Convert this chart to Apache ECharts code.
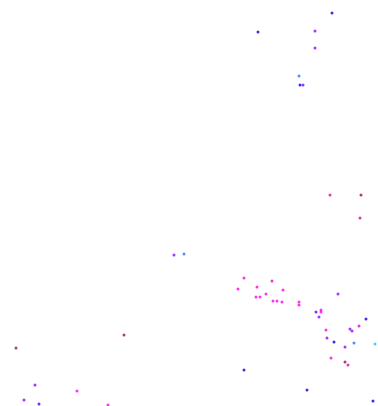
<!DOCTYPE html>
<html>
<head>
<meta charset="utf-8">
<script src="https://cdn.jsdelivr.net/npm/echarts@6/dist/echarts.min.js"></script>
<style>
html,body{margin:0;padding:0;background:#fff;}
#chart{width:378px;height:406px;}
</style>
</head>
<body>
<div id="chart"></div>
<script>
// Horizontal position of each point
var xValues = [332,258,315,315,299,300,303,330,361,360,174,184,
  244,238,257,272,283,266,256,260,273,277,282,299,299,338,321,321,316,319,366,326,350,352,359,327,334,354,375,345,331,345,348,244,307,373,
  124,16,35,77,24,39,108];
// Vertical position of each point (measured upward from the bottom)
var yValues = [393,374,375,358,330,321,321,211,211,188,151,152,
  128,117,119,125,116,112,109,109,105,105,104,104,101,112,96,94,94,89,87,76,77,75,80,68,64,63,62,59,48,44,41,36,16,5,
  71,58,21,15,6,2,1];
// Third measure of each point, shown by colour
var colorValues = [75,75,52,52,87,75,55,14,2,12,52,87,
  33,33,30,16,30,30,33,33,33,33,33,35,35,50,36,36,62,52,75,35,52,52,20,52,75,87,100,52,28,2,14,75,75,75,
  2,2,52,35,52,65,38];

var data = xValues.map(function (x, i) { return [x, yValues[i], colorValues[i]]; });

var chart = echarts.init(document.getElementById('chart'), null, {renderer: 'canvas'});
chart.setOption({
  animation: false,
  backgroundColor: '#ffffff',
  grid: {left: 0, right: 0, top: 0, bottom: 0},
  xAxis: {type: 'value', min: 0, max: 378, show: false},
  yAxis: {type: 'value', min: 0, max: 406, show: false},
  visualMap: {
    show: false,
    dimension: 2,
    min: 0,
    max: 100,
    inRange: {
      color: ['#a0005a','#d0108a','#ff00cc','#ff00ff','#a000ff','#5a00ff','#0000e0','#3070ff','#00d0ff']
    }
  },
  series: [{
    type: 'scatter',
    symbol: 'circle',
    symbolSize: 3,
    data: data
  }]
});
</script>
</body>
</html>
